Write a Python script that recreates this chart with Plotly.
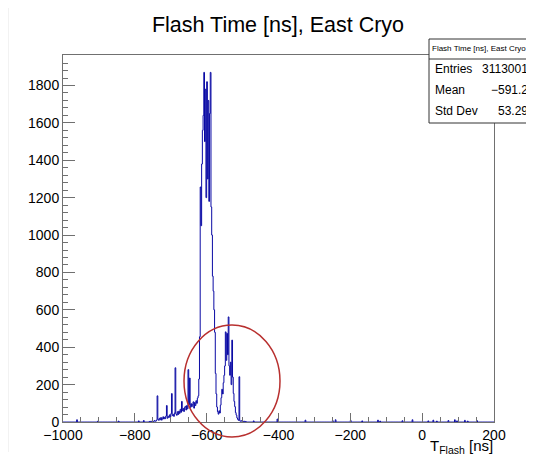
import plotly.graph_objects as go

# --- histogram binning (ns) ---
bin_width = 2
t_min, t_max = -1000, 200

# dense part of the flash time distribution: one count per 2 ns bin, first bin at -760 ns
dense_start = -760
dense_counts = [
    3, 0, 4, 2, 6, 1, 3, 8, 4, 5,                     # -760 .. -742
    10, 140, 14, 9, 20, 12, 24, 10, 18, 28,           # -740 .. -722
    16, 25, 18, 32, 88, 20, 30, 24, 38, 26,           # -720 .. -702
    44, 152, 34, 40, 30, 48, 290, 42, 36, 55,         # -700 .. -682
    40, 58, 46, 68, 52, 110, 60, 72, 56, 78,          # -680 .. -662
    84, 64, 88, 70, 280, 92, 235, 78, 98, 82,         # -660 .. -642
    94, 108, 74, 104, 88, 114, 100, 128, 140, 230,    # -640 .. -622
    456, 1257, 1050, 1380, 1560, 1640, 1870, 1500, 1780, 1200,   # -620 .. -602
    1820, 1300, 1720, 1180, 1650, 1870, 1150, 1000, 780, 700,    # -600 .. -582
    600, 480, 260, 150, 80, 55, 42, 60, 48, 90,       # -580 .. -562
    130, 175, 150, 210, 250, 300, 482, 330, 474, 360, # -560 .. -542
    562, 300, 250, 320, 200, 438, 240, 153, 110, 82,  # -540 .. -522
    50, 37, 22, 14, 9, 242, 6, 4, 7, 3,               # -520 .. -502
    5, 2, 4, 0, 3,                                    # -500 .. -492
]

# isolated small spikes in the tails
tail_times = [-962, -904, -846, -790, -776, -470, -404, -326, -250, -242, -200, -168,
              -124, -118, -56, -28, 16, 30, 40, 72, 90, 96, 118, 126, 152]
tail_counts = [12, 4, 5, 6, 8, 6, 16, 10, 8, 12, 9, 6,
               10, 5, 7, 12, 6, 10, 5, 8, 12, 6, 9, 5, 7]

x_ticks = [-1000, -800, -600, -400, -200, 0, 200]
y_ticks = [0, 200, 400, 600, 800, 1000, 1200, 1400, 1600, 1800]

hist_title = "Flash Time [ns], East Cryo"
stats_labels = ["Entries", "Mean", "Std Dev"]
stats_values = ["3113001", "\u2212591.2", "53.29"]

# --- build the step histogram ---
n_bins = (t_max - t_min) // bin_width
counts = [0] * n_bins
offset = (dense_start - t_min) // bin_width
for i, c in enumerate(dense_counts):
    counts[offset + i] = c
for t, c in zip(tail_times, tail_counts):
    counts[(t - t_min) // bin_width] = c
edges = [t_min + i * bin_width for i in range(n_bins + 1)]

FONT = "Liberation Sans, Arial, Helvetica, sans-serif"
AXIS_GREY = "#707070"

fig = go.Figure()
fig.add_trace(go.Scatter(
    x=edges, y=counts + [counts[-1]],
    mode="lines", line_shape="hv",
    line=dict(color="#0a0aa4", width=1),
    showlegend=False, hoverinfo="skip",
))

# the page body adds an 8 px margin, so the figure is drawn 8 px smaller/shifted
PAGE_OFF = 8
W, H = 534 - PAGE_OFF, 462 - PAGE_OFF
# plot frame in page pixels: x 63..494, y 55..422
ML, MT = 63 - PAGE_OFF, 55 - PAGE_OFF
MR, MB = W - (494 - PAGE_OFF), H - (422 - PAGE_OFF)
PW, PH = W - ML - MR, H - MT - MB


def px(xp):
    # page pixel x -> paper fraction
    return (xp - PAGE_OFF - ML) / PW


def py(yp):
    # page pixel y -> paper fraction
    return (H - MB - (yp - PAGE_OFF)) / PH


shapes = [
    # faint page edge on the left
    dict(type="line", xref="paper", yref="paper", x0=px(8), x1=px(8), y0=py(8), y1=py(452),
         line=dict(color="#e6e6e6", width=1)),
    # red circle around the second bump
    dict(type="circle", xref="paper", yref="paper", x0=px(184), x1=px(280), y0=py(437), y1=py(325),
         line=dict(color="#b8302f", width=1.5)),
    # stats box
    dict(type="rect", xref="paper", yref="paper", x0=px(429), x1=px(540), y0=py(123), y1=py(39),
         line=dict(color="#333333", width=1), fillcolor="white", layer="above"),
    dict(type="line", xref="paper", yref="paper", x0=px(429), x1=px(540), y0=py(59), y1=py(59),
         line=dict(color="#333333", width=1), layer="above"),
]

annotations = [
    dict(text=hist_title, xref="paper", yref="paper", x=px(430), y=py(49),
         xanchor="left", yanchor="middle", showarrow=False, font=dict(size=8, family=FONT, color="black")),
    dict(text="T<sub>Flash</sub> [ns]", xref="paper", yref="paper", x=px(495), y=py(435),
         xanchor="right", yanchor="top", showarrow=False, font=dict(size=15, family=FONT, color="black")),
]
for i, (lab, val) in enumerate(zip(stats_labels, stats_values)):
    yy = py(69 + 21 * i)
    annotations.append(dict(text=lab, xref="paper", yref="paper", x=px(433), y=yy, xanchor="left",
                            yanchor="middle", showarrow=False, font=dict(size=12, family=FONT, color="black")))
    annotations.append(dict(text=val, xref="paper", yref="paper", x=px(530), y=yy, xanchor="right",
                            yanchor="middle", showarrow=False, font=dict(size=12, family=FONT, color="black")))

fig.update_layout(
    width=W, height=H,
    margin=dict(l=ML, r=MR, t=MT, b=MB),
    paper_bgcolor="white", plot_bgcolor="white",
    font=dict(family=FONT, size=14, color="black"),
    title=dict(text=hist_title, x=(278 - PAGE_OFF) / W, xanchor="center",
               y=1 - (24 - PAGE_OFF) / H, yanchor="middle",
               font=dict(size=21.5, family=FONT, color="black")),
    shapes=shapes, annotations=annotations,
)
fig.update_xaxes(
    range=[t_min, t_max], tickvals=x_ticks, ticks="inside", ticklen=9, tickcolor=AXIS_GREY,
    showline=True, linecolor=AXIS_GREY, linewidth=1, mirror=True,
    showgrid=False, zeroline=False,
    minor=dict(dtick=50, ticks="inside", ticklen=5, tickcolor=AXIS_GREY, showgrid=False),
)
fig.update_yaxes(
    range=[0, 1963], tickvals=y_ticks, ticks="inside", ticklen=12, tickcolor=AXIS_GREY,
    showline=True, linecolor=AXIS_GREY, linewidth=1, mirror=True,
    showgrid=False, zeroline=False,
    minor=dict(dtick=40, ticks="inside", ticklen=5, tickcolor=AXIS_GREY, showgrid=False),
)

fig.write_html("out.html")
